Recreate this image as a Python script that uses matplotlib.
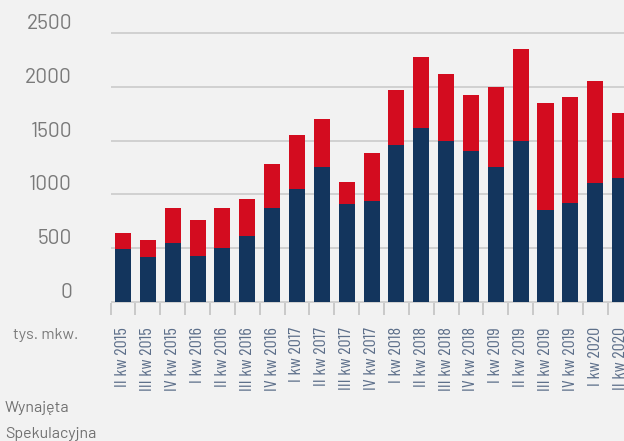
import matplotlib
matplotlib.use("Agg")
import matplotlib.pyplot as plt
import numpy as np

# quarters and values (tys. mkw.)
quarters = ["II kw 2015", "III kw 2015", "IV kw 2015", "I kw 2016", "II kw 2016",
            "III kw 2016", "IV kw 2016", "I kw 2017", "II kw 2017", "III kw 2017",
            "IV kw 2017", "I kw 2018", "II kw 2018", "III kw 2018", "IV kw 2018",
            "I kw 2019", "II kw 2019", "III kw 2019", "IV kw 2019", "I kw 2020",
            "II kw 2020"]
wynajeta = [492, 418, 548, 428, 502, 613, 874, 1050, 1255, 911, 939, 1459,
            1617, 1496, 1403, 1255, 1496, 855, 920, 1106, 1152]
total = [641, 576, 874, 762, 874, 957, 1283, 1552, 1701, 1115, 1385, 1970,
         2277, 2119, 1924, 1998, 2351, 1849, 1905, 2054, 1756]
spekulacyjna = [t - w for t, w in zip(total, wynajeta)]
y_ticks = [0, 500, 1000, 1500, 2000, 2500]

navy = "#13355d"
red = "#d30c1f"
bg = "#f2f2f2"

fig = plt.figure(figsize=(6.24, 4.41), dpi=100, facecolor=bg)
ax = fig.add_axes([0.1772, 0.3127, 0.8364, 0.6368])
ax.set_facecolor(bg)

x = np.arange(len(quarters))
ax.bar(x, wynajeta, width=0.644, color=navy, zorder=3)
ax.bar(x, spekulacyjna, width=0.644, bottom=wynajeta, color=red, zorder=3)

ax.set_xlim(-0.5, len(quarters) - 0.5)
ax.set_ylim(-10, 2600)
for s in ax.spines.values():
    s.set_visible(False)

ax.set_yticks(y_ticks)
ax.set_yticklabels([str(v) for v in y_ticks], family="Barlow",
                   fontsize=15, color="#7a7a7a")
for lab in ax.get_yticklabels():
    lab.set_verticalalignment("bottom")
ax.tick_params(axis="y", length=0, pad=27.8)
ax.grid(axis="y", color="#cbcbcb", lw=1.2, zorder=0)

ax.set_xticks(x)
ax.set_xticklabels(quarters, rotation=90, family="Barlow Condensed",
                   fontsize=13, color="#5d6f8a", va="top")
ax.set_xticks(np.arange(len(quarters) + 1) - 0.5, minor=True)
ax.tick_params(axis="x", which="major", length=0, pad=17.3)
ax.tick_params(axis="x", which="minor", length=8.6, width=1.2, color="#c2c2c2")

fig.text(13 / 624, (441 - 339) / 441, "tys. mkw.", family="Barlow",
         fontsize=11.5, color="#7a7a7a", va="baseline")
fig.text(5 / 624, (441 - 412) / 441, "Wynajęta", family="Barlow",
         fontsize=11.5, color="#707070", va="baseline")
fig.text(5 / 624, (441 - 438) / 441, "Spekulacyjna", family="Barlow",
         fontsize=11.5, color="#707070", va="baseline")

fig.savefig("out.png", dpi=100, facecolor=bg)
